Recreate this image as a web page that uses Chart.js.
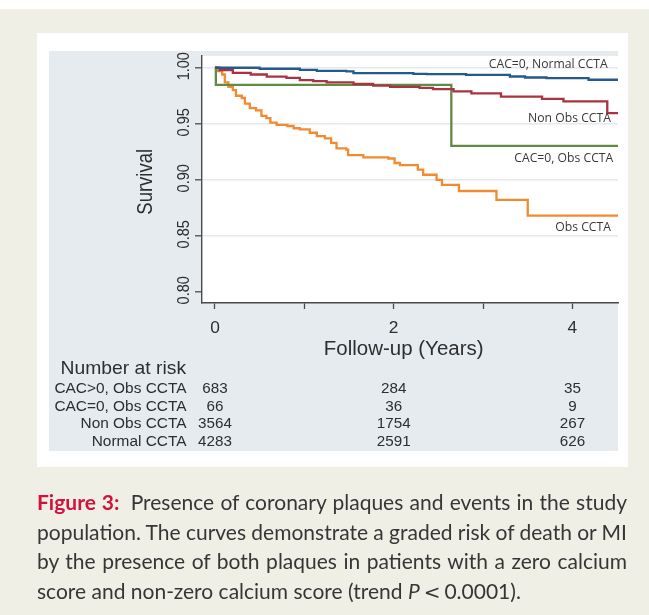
<!DOCTYPE html>
<html>
<head>
<meta charset="utf-8">
<script src="https://cdn.jsdelivr.net/npm/chart.js@4.4.1/dist/chart.umd.min.js"></script>
<style>
html, body { margin: 0; padding: 0; background: #fff; }
#wrap { position: relative; width: 649px; height: 615px; overflow: hidden; }
#km { position: absolute; left: 0; top: 0; }
.cap { position: absolute; left: 37px; width: 590px; font-family: Lato, "Open Sans", sans-serif; font-size: 21px;
       line-height: 29.5px; color: #363636; white-space: nowrap; }
.cap b { color: #d3123c; font-weight: 700; margin-right: 5px; }
.cap .lt { font-family: "DejaVu Sans", sans-serif; font-size: 20px; }
</style>
</head>
<body>
<div id="wrap">
  <canvas id="km" width="649" height="615"></canvas>
  <div class="cap" style="top:487px"><span><b>Figure 3:</b> Presence of coronary plaques and events in the study</span></div>
  <div class="cap" style="top:516.5px"><span>population. The curves demonstrate a graded risk of death or MI</span></div>
  <div class="cap" style="top:546px"><span>by the presence of both plaques in patients with a zero calcium</span></div>
  <div class="cap last" style="top:575.5px"><span>score and non-zero calcium score (trend <i>P</i><span class="lt">&thinsp;&lt;&thinsp;</span>0.0001).</span></div>
</div>
<script>
// survival curves (years, survival)
const normalTime = [0, 0.5, 0.95, 1.14, 1.47, 1.55, 2.22, 2.37, 2.81, 3.3, 3.47, 3.71, 4.18, 4.51]
const normalSurv = [1, 0.9991, 0.9982, 0.9973, 0.9967, 0.9952, 0.9946, 0.9944, 0.9937, 0.9922, 0.9913, 0.9908, 0.9893, 0.9893]

const nonObsTime = [0, 0.05, 0.2, 0.4, 0.58, 0.8, 0.95, 1.1, 1.25, 1.55, 1.77, 1.96, 2.29, 2.44, 2.67, 2.87, 3.2, 3.66, 3.9, 4.39, 4.51]
const nonObsSurv = [1, 0.998, 0.9955, 0.994, 0.992, 0.991, 0.989, 0.988, 0.987, 0.9855, 0.984, 0.983, 0.982, 0.981, 0.979, 0.9772, 0.9742, 0.9722, 0.970, 0.9595, 0.9595]

const cac0ObsTime = [0, 0.01, 2.645, 4.51]
const cac0ObsSurv = [1, 0.9848, 0.9302, 0.9302]

const obsTime = [0, 0.02, 0.08, 0.11, 0.15, 0.2, 0.235, 0.3, 0.335, 0.39, 0.46, 0.52, 0.575, 0.62, 0.69, 0.81, 0.88, 0.95,
  1.06, 1.14, 1.23, 1.3, 1.36, 1.47, 1.49, 1.66, 1.94, 2.01, 2.07, 2.27, 2.33, 2.48, 2.54, 2.73, 3.15, 3.5, 4.51]
const obsSurv = [1, 0.997, 0.994, 0.987, 0.983, 0.98, 0.975, 0.973, 0.968, 0.964, 0.962, 0.957, 0.955, 0.951, 0.949, 0.948, 0.946, 0.945,
  0.942, 0.939, 0.937, 0.933, 0.928, 0.927, 0.922, 0.92, 0.919, 0.915, 0.913, 0.909, 0.9045, 0.9, 0.8955, 0.89, 0.882, 0.868, 0.868]

const seriesNames = ['CAC=0, Normal CCTA', 'Non Obs CCTA', 'CAC=0, Obs CCTA', 'Obs CCTA']

// axes
const xTicks = [0, 1, 2, 3, 4]
const xTickLabels = ['0', '', '2', '', '4']
const yTicks = [0.80, 0.85, 0.90, 0.95, 1.00]

// number at risk table
const riskTimes = [0, 2, 4]
const riskRows = ['CAC>0, Obs CCTA', 'CAC=0, Obs CCTA', 'Non Obs CCTA', 'Normal CCTA']
const riskObs = [683, 284, 35]
const riskCac0Obs = [66, 36, 9]
const riskNonObs = [3564, 1754, 267]
const riskNormal = [4283, 2591, 626]

function pts(t, s){
    return t.map((v, i) => ({x: v, y: s[i]}))
}

// text drawn with a slight horizontal stretch like the source figure
function txt(ctx, s, x, y, o){
    ctx.save()
    ctx.translate(x, y)
    ctx.scale(o.sx || 1, 1)
    if (o.rot) ctx.rotate(o.rot)
    ctx.font = (o.weight || '') + ' ' + o.size + 'px ' + (o.family || '"Liberation Sans", Arial, sans-serif')
    ctx.fillStyle = o.color || '#2e2e2e'
    ctx.textAlign = o.align || 'center'
    ctx.textBaseline = 'middle'
    ctx.fillText(s, 0, 0)
    ctx.restore()
}

const panelBg = {
    id: 'panelBg',
    beforeDraw(chart){
        const ctx = chart.ctx
        const a = chart.chartArea
        ctx.save()
        ctx.fillStyle = '#ffffff'
        ctx.fillRect(0, 0, chart.width, chart.height)
        ctx.fillStyle = '#f0efe6'
        ctx.fillRect(0, 9, chart.width, chart.height - 9)
        ctx.fillStyle = '#ffffff'
        ctx.fillRect(37, 33, 591, 434)
        ctx.fillStyle = '#e5ebef'
        ctx.fillRect(49, 51, 569, 400)
        ctx.fillStyle = '#ffffff'
        ctx.fillRect(a.left, a.top, a.right - a.left, a.bottom - a.top)
        ctx.restore()
    }
}

const textLayer = {
    id: 'textLayer',
    afterDraw(chart, args, opts){
        const ctx = chart.ctx
        const xs = chart.scales.x
        const ys = chart.scales.y
        const SX = 1.05

        yTicks.forEach(v => txt(ctx, v.toFixed(2), 184, ys.getPixelForValue(v) - 1.5, {size: 14.5, sx: 1.15, rot: -Math.PI / 2}))
        xTicks.forEach((v, i) => {
            if (xTickLabels[i]) txt(ctx, xTickLabels[i], xs.getPixelForValue(v), 328, {size: 16.5, sx: SX})
        })
        txt(ctx, 'Follow-up (Years)', xs.getPixelForValue(2) + 10, 350, {size: 19.5, sx: SX})
        txt(ctx, 'Survival', 146.5, (ys.getPixelForValue(0.8) + ys.getPixelForValue(1)) / 2 + 2, {size: 18.5, sx: 1.15, rot: -Math.PI / 2})

        // curve labels
        opts.labels.forEach((l, i) => {
            txt(ctx, seriesNames[i], xs.getPixelForValue(l[0]), ys.getPixelForValue(l[1]), {
                size: 12.2, family: '"Open Sans", sans-serif', align: 'right', color: '#383838'})
        })

        // number at risk
        txt(ctx, 'Number at risk', 60.5, 369, {size: 18.4, sx: SX, align: 'left'})
        const rows = [riskObs, riskCac0Obs, riskNonObs, riskNormal]
        rows.forEach((r, i) => {
            const y = 389 + i * 17.5
            txt(ctx, riskRows[i], 186.5, y, {size: 14.7, sx: SX, align: 'right'})
            r.forEach((n, j) => txt(ctx, String(n), xs.getPixelForValue(riskTimes[j]), y, {size: 14.5, sx: SX}))
        })
    }
}

const lineColors = ['#255a8d', '#a9343f', '#5f8b45', '#f28a30']
const allData = [pts(normalTime, normalSurv), pts(nonObsTime, nonObsSurv), pts(cac0ObsTime, cac0ObsSurv), pts(obsTime, obsSurv)]

const ctx = document.getElementById('km').getContext('2d')
const kmChart = new Chart(ctx, {
    type: 'line',
    data: {
        datasets: allData.map((d, i) => ({
            label: seriesNames[i],
            data: d,
            borderColor: lineColors[i],
            borderWidth: 2.3,
            stepped: 'before',
            pointRadius: 0,
            fill: false
        }))
    },
    options: {
        responsive: false,
        devicePixelRatio: 1,
        animation: false,
        layout: {padding: {left: 172, right: 31, top: 56, bottom: 282}},
        plugins: {
            legend: {display: false},
            tooltip: {enabled: false},
            textLayer: {labels: [[4.394, 1.0025], [4.431, 0.9551], [4.457, 0.9194], [4.431, 0.8574]]}
        },
        scales: {
            x: {
                type: 'linear', min: -0.145, max: 4.51,
                afterBuildTicks: s => { s.ticks = xTicks.map(v => ({value: v})) },
                afterFit: s => { s.height = 30 },
                ticks: {display: false},
                grid: {drawOnChartArea: false, tickLength: 6, tickColor: '#4a4a4a', tickWidth: 1.3},
                border: {color: '#4a4a4a', width: 1.4}
            },
            y: {
                type: 'linear', min: 0.79, max: 1.0105,
                afterBuildTicks: s => { s.ticks = yTicks.map(v => ({value: v})) },
                afterFit: s => { s.width = 30 },
                ticks: {display: false},
                grid: {
                    color: c => (c.tick && c.tick.value > 0.81) ? '#e3e9ee' : 'rgba(0,0,0,0)',
                    lineWidth: 1.6, tickLength: 7, tickColor: '#4a4a4a', tickWidth: 1.3
                },
                border: {color: '#4a4a4a', width: 1.4}
            }
        }
    },
    plugins: [panelBg, textLayer]
})

// justify the first three caption lines like the printed caption
function justifyCaption(){
    document.querySelectorAll('.cap').forEach(line => {
        if (line.classList.contains('last')) return
        line.style.wordSpacing = '0px'
        const sp = line.querySelector('span')
        const w = sp.getBoundingClientRect().width
        const n = (sp.textContent.match(/ /g) || []).length
        line.style.wordSpacing = ((590 - w) / n) + 'px'
    })
}
justifyCaption()
if (document.fonts) document.fonts.ready.then(justifyCaption)
</script>
</body>
</html>
